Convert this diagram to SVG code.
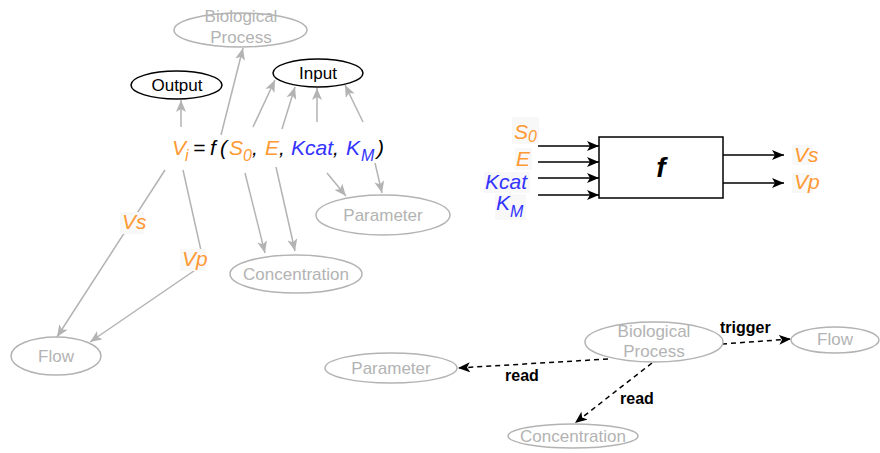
<svg xmlns="http://www.w3.org/2000/svg" width="880" height="453" viewBox="0 0 880 453">
<style>
  text { font-family: "Liberation Sans", Arial, sans-serif; }
  .gnode { fill: #FFFFFF; stroke: #B3B3B3; stroke-width: 1.5; }
  .bnode { fill: #FFFFFF; stroke: #000000; stroke-width: 1.5; }
  .gtxt { fill: #B3B3B3; font-size: 17px; text-anchor: middle; }
  .btxt { fill: #000000; font-size: 17px; text-anchor: middle; }
  .gline { fill: none; stroke: #B3B3B3; stroke-width: 1.5; marker-end: url(#ga); }
  .kline { fill: none; stroke: #000000; stroke-width: 1.5; marker-end: url(#ka); }
  .dline { fill: none; stroke: #000000; stroke-width: 1.5; stroke-dasharray: 5 4; marker-end: url(#ka); }
  .eq { font-size: 21px; font-style: italic; }
  .or { fill: #FF9933; }
  .bl { fill: #3333FF; }
  .bk { fill: #000000; }
  .lbl { fill: #000000; font-size: 16px; font-weight: bold; }
  .lbg { fill: #F8F8F8; }
</style>
<defs>
  <marker id="ga" markerUnits="userSpaceOnUse" markerWidth="12" markerHeight="10" viewBox="0 0 12 10" refX="12" refY="5" orient="auto">
    <path d="M0,0 L12,5 L0,10 L3,5 z" fill="#B3B3B3"/>
  </marker>
  <marker id="ka" markerUnits="userSpaceOnUse" markerWidth="12" markerHeight="10" viewBox="0 0 12 10" refX="12" refY="5" orient="auto">
    <path d="M0,0 L12,5 L0,10 L3,5 z" fill="#000000"/>
  </marker>
</defs>

<g id="connectors">
  <line class="gline" x1="181" y1="127" x2="181" y2="100"/>
  <line class="gline" x1="221" y1="135" x2="243" y2="48"/>
  <line class="gline" x1="253" y1="127" x2="275" y2="80"/>
  <line class="gline" x1="282" y1="129" x2="295" y2="87"/>
  <line class="gline" x1="317" y1="122" x2="317" y2="88"/>
  <line class="gline" x1="363" y1="122" x2="345" y2="85"/>
  <line class="gline" x1="327" y1="173" x2="346" y2="196"/>
  <line class="gline" x1="375" y1="163" x2="382" y2="193"/>
  <line class="gline" x1="245" y1="173" x2="265" y2="253"/>
  <line class="gline" x1="276" y1="167" x2="295" y2="251"/>
  <line class="gline" x1="165" y1="170" x2="57" y2="337"/>
  <polyline class="gline" points="183,170 204,264 90,342"/>
  <rect class="lbg" x="120" y="212" width="24" height="22"/>
  <text class="eq or" x="122" y="229" font-size="19">Vs</text>
  <rect class="lbg" x="180" y="249" width="26" height="22"/>
  <text class="eq or" x="182" y="266" font-size="19">Vp</text>

  <line class="kline" x1="538" y1="146" x2="599" y2="146"/>
  <line class="kline" x1="538" y1="162" x2="599" y2="162"/>
  <line class="kline" x1="538" y1="178" x2="599" y2="178"/>
  <line class="kline" x1="538" y1="195" x2="599" y2="195"/>
  <line class="kline" x1="723" y1="155" x2="784" y2="155"/>
  <line class="kline" x1="723" y1="183" x2="784" y2="183"/>

  <line class="dline" x1="722" y1="344" x2="791" y2="339"/>
  <text class="lbl" x="720" y="333">trigger</text>
  <line class="dline" x1="608" y1="359" x2="458" y2="368"/>
  <text class="lbl" x="505" y="381">read</text>
  <line class="dline" x1="652" y1="363" x2="575" y2="423"/>
  <text class="lbl" x="620" y="404">read</text>
</g>

<g id="bio-top">
  <ellipse class="gnode" cx="240.5" cy="30" rx="66.5" ry="17"/>
  <text class="gtxt" x="241" y="22">Biological</text>
  <text class="gtxt" x="241" y="43">Process</text>
</g>
<g id="output">
  <ellipse class="bnode" cx="176.5" cy="85" rx="45.5" ry="14"/>
  <text class="btxt" x="177" y="91">Output</text>
</g>
<g id="input">
  <ellipse class="bnode" cx="318" cy="73" rx="45" ry="14"/>
  <text class="btxt" x="318" y="79">Input</text>
</g>
<g id="equation">
  <text class="eq" y="155">
    <tspan class="or" x="172">V</tspan><tspan class="or" x="185" y="161" font-size="16">i</tspan>
    <tspan class="bk" x="193" y="155">=</tspan>
    <tspan class="bk" x="210" y="155">f</tspan>
    <tspan class="bk" x="220" y="155">(</tspan>
    <tspan class="or" x="229" y="155">S</tspan><tspan class="or" x="243" y="161" font-size="16">0</tspan>
    <tspan class="bk" x="252" y="155">,</tspan>
    <tspan class="or" x="265" y="155">E</tspan>
    <tspan class="bk" x="279" y="155">,</tspan>
    <tspan class="bl" x="291" y="155">Kcat</tspan>
    <tspan class="bk" x="333" y="155">,</tspan>
    <tspan class="bl" x="346" y="155">K</tspan><tspan class="bl" x="361" y="161" font-size="16">M</tspan>
    <tspan class="bk" x="377" y="155">)</tspan>
  </text>
</g>
<g id="parameter-mid">
  <ellipse class="gnode" cx="383" cy="215" rx="67" ry="20"/>
  <text class="gtxt" x="383" y="221">Parameter</text>
</g>
<g id="concentration-mid">
  <ellipse class="gnode" cx="296" cy="274" rx="66" ry="19"/>
  <text class="gtxt" x="296" y="280">Concentration</text>
</g>
<g id="flow-left">
  <ellipse class="gnode" cx="56" cy="356" rx="45" ry="19"/>
  <text class="gtxt" x="56" y="362">Flow</text>
</g>

<g id="function-block">
  <rect x="599" y="137" width="124" height="61" fill="#FFFFFF" stroke="#000000" stroke-width="1.5"/>
  <text x="661" y="177" font-size="28" font-weight="bold" font-style="italic" text-anchor="middle" fill="#000000">f</text>
</g>
<g id="inputs-labels">
  <rect class="lbg" x="512" y="117" width="27" height="27"/>
  <text class="eq or" x="514" y="139" font-size="21">S<tspan x="528" y="142" font-size="16">0</tspan></text>
  <rect class="lbg" x="515" y="148" width="17" height="22"/>
  <text class="eq or" x="516" y="166" font-size="21">E</text>
  <rect class="lbg" x="484" y="172" width="46" height="21"/>
  <text class="eq bl" x="485" y="189" font-size="21">Kcat</text>
  <rect class="lbg" x="495" y="194" width="31" height="26"/>
  <text class="eq bl" x="496" y="210" font-size="21">K<tspan x="510" y="217" font-size="16">M</tspan></text>
</g>
<g id="outputs-labels">
  <rect class="lbg" x="792" y="145" width="21" height="20"/>
  <text class="eq or" x="794" y="162" font-size="15">Vs</text>
  <rect class="lbg" x="792" y="173" width="21" height="20"/>
  <text class="eq or" x="794" y="189" font-size="15">Vp</text>
</g>

<g id="bio-bottom">
  <ellipse class="gnode" cx="654" cy="342" rx="69" ry="20"/>
  <text class="gtxt" x="654" y="337">Biological</text>
  <text class="gtxt" x="654" y="357">Process</text>
</g>
<g id="flow-right">
  <ellipse class="gnode" cx="835" cy="340" rx="44" ry="13"/>
  <text class="gtxt" x="835" y="345">Flow</text>
</g>
<g id="parameter-bottom">
  <ellipse class="gnode" cx="391" cy="368" rx="66" ry="15"/>
  <text class="gtxt" x="391" y="374">Parameter</text>
</g>
<g id="concentration-bottom">
  <ellipse class="gnode" cx="573" cy="436" rx="65" ry="12"/>
  <text class="gtxt" x="573" y="442">Concentration</text>
</g>
</svg>
